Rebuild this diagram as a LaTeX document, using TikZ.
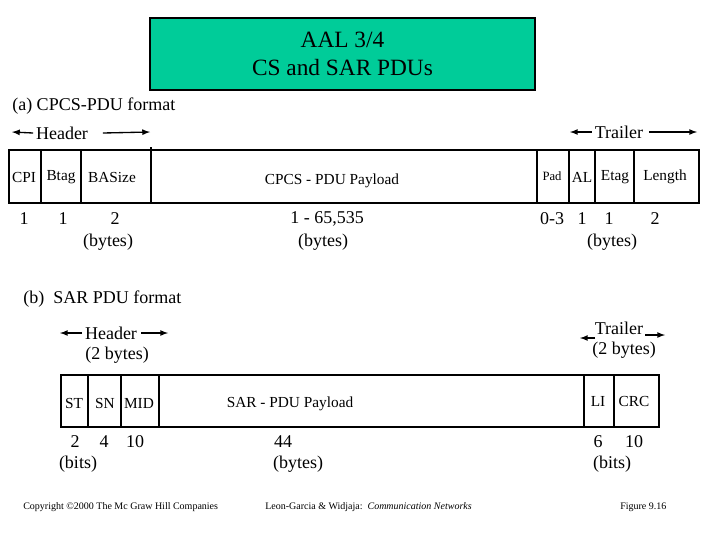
\documentclass[tikz,border=0pt]{standalone}
\usepackage{fontspec}
\setmainfont{Liberation Serif}
\begin{document}
\begin{tikzpicture}[x=0.75pt,y=-0.75pt,
  lbl/.style={inner sep=0pt,font=\fontsize{13.5}{15}\selectfont},
  fld/.style={inner sep=0pt,font=\fontsize{11.5}{13}\selectfont},
  foot/.style={inner sep=0pt,font=\fontsize{7.5}{8}\selectfont},
  frame/.style={line width=2.2pt},
  divline/.style={line width=1.5pt},
  arr/.style={-latex,line width=1pt}]
\useasboundingbox (0,0) rectangle (720,540);
% title
\node[draw=black,fill={rgb,255:red,0;green,204;blue,153},line width=0.8pt,minimum width=385*0.75pt,minimum height=72*0.75pt,inner sep=0pt,
  align=center,font=\fontsize{17.5}{21}\selectfont] (title) at (342.5,54) {AAL 3/4\\CS and SAR PDUs};
% (a)
\node[lbl,anchor=west] (capa) at (12,106) {(a) CPCS-PDU format};
\node[lbl] (hdra) at (62,133) {Header};
\coordinate (hal) at (12,132); \coordinate (har) at (150,132);
\draw[arr] ([xshift=-2pt]hdra.west) -- (hal);
\draw[arr] ([xshift=11pt]hdra.east) -- (har);
\node[lbl] (trla) at (619,132) {Trailer};
\coordinate (tal) at (570,132); \coordinate (tar) at (697,132);
\draw[arr] ([xshift=-2pt]trla.west) -- (tal);
\draw[arr] ([xshift=4pt]trla.east) -- (tar);
\node[draw=black,frame,minimum width=690*0.75pt,minimum height=53*0.75pt,inner sep=0pt] (boxa) at (354,176.5) {};
\foreach \x in {41,81,537,569,595,634} \draw[divline] (\x,150) -- (\x,203);
\draw[line width=2pt] (151,147) -- (151,203);
\node[fld] (cpi) at (24,177) {CPI};
\node[fld] (btag) at (61,177) {Btag};
\node[fld] (basize) at (112,177) {BASize};
\node[fld] (pay) at (332,181) {CPCS - PDU Payload};
\node[fld,font=\fontsize{9.5}{11}\selectfont] (pad) at (552,176) {Pad};
\node[fld] (al) at (582,177) {AL};
\node[fld] (etag) at (615,177) {Etag};
\node[fld] (len) at (665,177) {Length};
\node[lbl] (n1) at (24,219) {1};
\node[lbl] (n2) at (63,219) {1};
\node[lbl] (n3) at (115,219) {2};
\node[lbl] (by1) at (108,242) {(bytes)};
\node[lbl] (n4) at (327,219) {1 - 65,535};
\node[lbl] (by2) at (323,242) {(bytes)};
\node[lbl] (n5) at (552,219) {0-3};
\node[lbl] (n6) at (582,219) {1};
\node[lbl] (n7) at (609,219) {1};
\node[lbl] (n8) at (655,219) {2};
\node[lbl] (by3) at (612,242) {(bytes)};
% (b)
\node[lbl,anchor=west] (capb) at (23,299) {(b)\ \ SAR PDU format};
\node[lbl] (hdrb) at (111,333) {Header};
\node[lbl] (hbb) at (117,355) {(2 bytes)};
\coordinate (hbl) at (60,333); \coordinate (hbr) at (168,333);
\draw[arr] ([xshift=-2pt]hdrb.west) -- (hbl);
\draw[arr] ([xshift=3pt]hdrb.east) -- (hbr);
\node[lbl] (trlb) at (619,328) {Trailer};
\node[lbl] (tbb) at (624,350) {(2 bytes)};
\coordinate (tbl) at (580,338); \coordinate (tbr) at (665,335);
\draw[arr] (595,338) -- (tbl);
\draw[arr] (645,335) -- (tbr);
\node[draw=black,frame,minimum width=598*0.75pt,minimum height=52*0.75pt,inner sep=0pt] (boxb) at (360,401) {};
\foreach \x in {88,121,159,584,614} \draw[divline] (\x,375) -- (\x,427);
\node[fld] (st) at (74,403) {ST};
\node[fld] (sn) at (105,403) {SN};
\node[fld] (mid) at (139,403) {MID};
\node[fld] (spay) at (290,404) {SAR - PDU Payload};
\node[fld] (li) at (598,401) {LI};
\node[fld] (crc) at (634,401) {CRC};
\node[lbl] (m1) at (75,442) {2};
\node[lbl] (m2) at (104,442) {4};
\node[lbl] (m3) at (135,442) {10};
\node[lbl] (bi1) at (78,464) {(bits)};
\node[lbl] (m4) at (283,442) {44};
\node[lbl] (by4) at (298,464) {(bytes)};
\node[lbl] (m5) at (598,442) {6};
\node[lbl] (m6) at (634,442) {10};
\node[lbl] (bi2) at (612,464) {(bits)};
% footer
\node[foot,anchor=west] (f1) at (23,507) {Copyright \textcopyright2000 The Mc Graw Hill Companies};
\node[foot,anchor=west] (f2) at (265,507) {Leon-Garcia \& Widjaja:\ \ \textit{Communication Networks}};
\node[foot,anchor=west] (f3) at (620,507) {Figure 9.16};
\end{tikzpicture}
\end{document}
